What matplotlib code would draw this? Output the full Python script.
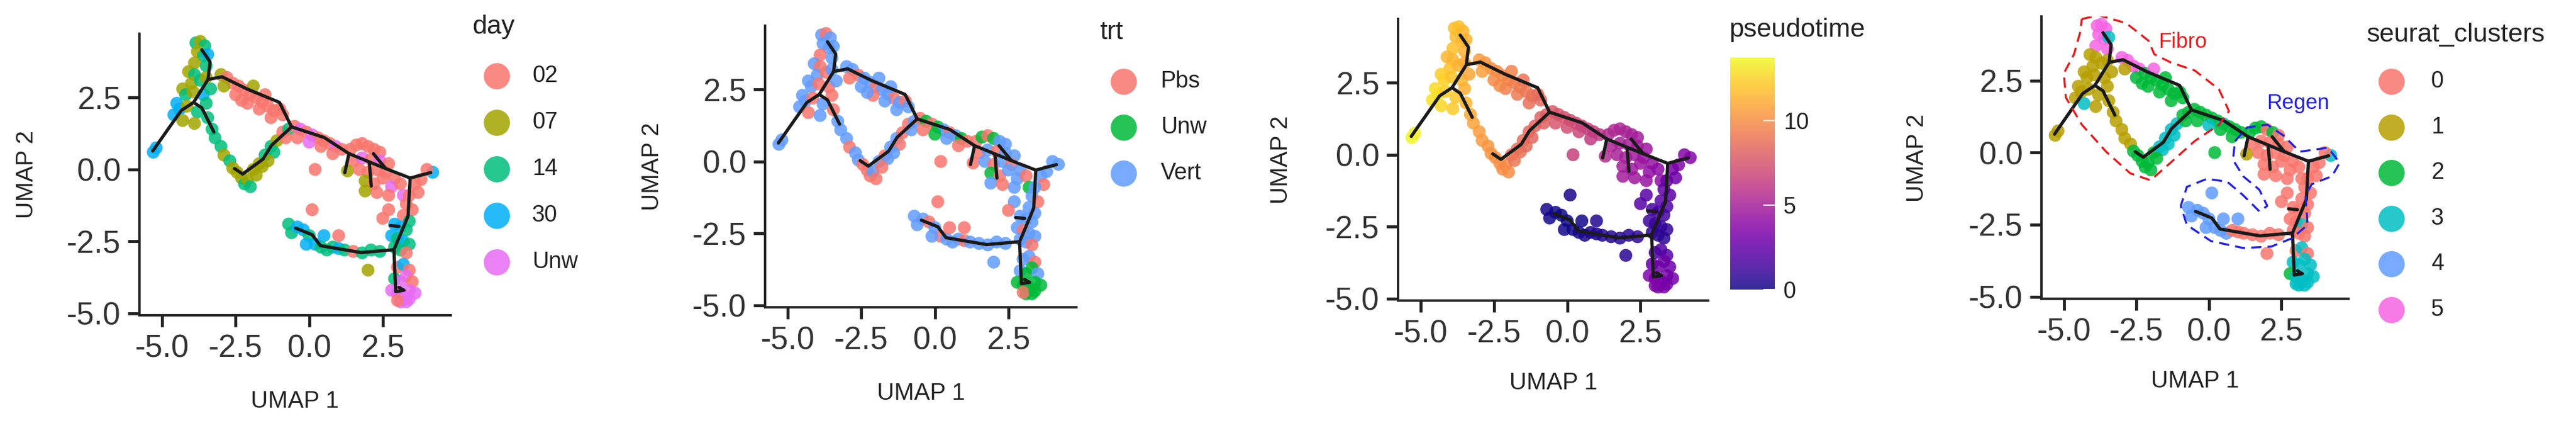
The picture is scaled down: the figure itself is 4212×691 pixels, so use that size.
import matplotlib
matplotlib.use("Agg")
import matplotlib.pyplot as plt
import numpy as np

plt.rcParams["font.family"] = ["Liberation Sans", "DejaVu Sans"]

# ---- cells: UMAP coordinates + metadata (grouped by region, same order in every list)
umap1 = (
    [-3.85, -3.7, -3.55, -3.8, -3.6, -3.45, -3.9, -3.5]
    + [-4.1, -3.9, -4.0, -3.7, -3.5, -4.3, -4.2, -3.95, -3.6, -3.35, -4.5, -4.4, -4.15, -3.8, -3.5, -4.6, -4.3, -3.9, -3.45, -3.3]
    + [-5.3, -5.2]
    + [-3.2, -3.0, -2.9, -2.7, -2.6, -2.45, -2.3, -2.2, -2.1, -2.0]
    + [-3.0, -2.8, -2.6, -2.4, -2.2, -2.0, -1.8, -1.6, -1.4, -1.2, -1.0, -0.9, -2.5, -2.1, -1.7, -1.3, -2.9, -2.3, -1.9, -1.5]
    + [-1.9, -1.7, -1.5, -1.3, -1.1, -0.9, -0.7, -1.6, -1.2, -0.8, -1.4, -1.8]
    + [-0.5, -0.3, -0.1, 0.1, 0.3, 0.5, 0.7, 0.9, 1.1, -0.4, 0.0, 0.4, 0.8, 0.2]
    + [1.4, 1.6, 1.8, 2.0, 2.2, 2.4, 1.5, 1.8, 2.1, 2.4, 2.7, 1.3, 1.7, 2.0, 2.3, 2.6, 2.9, 1.9, 2.2, 2.5, 2.8, 3.1, 1.9, 2.3, 2.7, 3.2]
    + [4.2, 4.0, 3.8, 3.6, 3.7]
    + [3.4, 3.3, 3.5, 3.2, 3.4, 2.9, 3.1, 3.3, 2.8, 3.0, 3.2, 3.4, 2.9, 3.1, 3.3, 2.7, 2.5]
    + [-0.7, -0.6, -0.4, -0.2, 0.0, 0.2, 0.4, 0.6, 0.8, 1.0, 1.2, 1.5, 1.8, 2.1, 2.4, 0.1, 0.5, 1.0, -0.1, 2.0]
    + [3.0, 3.2, 3.4, 2.9, 3.1, 3.3, 3.5, 2.8, 3.0, 3.2, 3.4, 3.6, 3.1, 3.3, 3.0, 3.4]
)
umap2 = (
    [4.4, 4.45, 4.3, 4.1, 3.95, 4.0, 3.7, 3.6]
    + [3.4, 3.3, 3.0, 3.1, 3.2, 2.8, 2.6, 2.7, 2.6, 2.8, 2.3, 2.1, 2.2, 2.0, 2.3, 1.9, 1.7, 1.6, 1.8, 1.4]
    + [0.6, 0.75]
    + [1.1, 0.8, 0.5, 0.3, 0.05, -0.1, -0.3, -0.5, -0.35, -0.6]
    + [3.3, 3.2, 3.0, 2.9, 2.75, 2.6, 2.5, 2.35, 2.2, 2.05, 2.1, 1.9, 2.6, 2.3, 2.1, 1.8, 2.9, 2.4, 2.9, 2.6]
    + [0.0, 0.2, 0.5, 0.8, 1.0, 1.3, 1.4, 0.1, 0.6, 1.1, 0.3, -0.2]
    + [1.5, 1.4, 1.3, 1.2, 1.1, 1.0, 0.9, 0.8, 0.7, 1.1, 0.95, 0.8, 0.55, 0.0]
    + [0.7, 0.85, 0.9, 0.8, 0.7, 0.6, 0.3, 0.4, 0.35, 0.3, 0.2, -0.05, 0.0, -0.1, 0.0, -0.1, -0.3, -0.4, -0.5, -0.3, -0.6, -0.5, -0.75, -0.8, -0.9, -0.9]
    + [-0.1, 0.0, -0.35, -0.5, -0.8]
    + [-0.9, -1.2, -1.4, -1.6, -1.8, -1.9, -2.0, -2.1, -2.3, -2.4, -2.5, -2.6, -2.7, -2.8, -2.9, -1.4, -1.7]
    + [-1.9, -2.2, -2.0, -2.1, -2.3, -2.6, -2.7, -2.8, -2.7, -2.75, -2.8, -2.85, -2.9, -2.8, -2.85, -1.4, -2.3, -2.3, -2.6, -3.5]
    + [-3.4, -3.3, -3.5, -3.8, -3.9, -3.7, -3.9, -4.2, -4.3, -4.4, -4.2, -4.3, -4.6, -4.6, -4.55, -4.5]
)
day = (
    ["14", "07", "14", "07", "14", "30", "07", "14"]
    + ["07", "14", "07", "14", "07", "07", "14", "07", "30", "14", "30", "30", "07", "14", "14", "30", "07", "07", "14", "14"]
    + ["30", "30"]
    + ["14", "14", "07", "14", "07", "07", "07", "14", "07", "14"]
    + ["07", "02", "02", "02", "02", "02", "02", "02", "02", "02", "02", "02", "02", "02", "02", "02", "07", "02", "07", "02"]
    + ["07", "07", "14", "14", "07", "02", "14", "07", "14", "02", "07", "07"]
    + ["02", "Unw", "02", "Unw", "02", "02", "02", "Unw", "02", "02", "Unw", "02", "02", "02"]
    + ["02", "02", "02", "02", "02", "02", "02", "Unw", "02", "Unw", "02", "07", "02", "02", "02", "02", "02", "07", "02", "02", "Unw", "02", "07", "02", "02", "Unw"]
    + ["30", "02", "02", "02", "02"]
    + ["02", "02", "02", "02", "14", "30", "30", "14", "30", "14", "30", "14", "14", "14", "02", "02", "02"]
    + ["14", "14", "30", "30", "14", "30", "14", "14", "14", "30", "14", "02", "14", "14", "14", "02", "30", "02", "30", "07"]
    + ["02", "30", "02", "14", "Unw", "Unw", "02", "Unw", "Unw", "Unw", "Unw", "Unw", "Unw", "Unw", "02", "Unw"]
)
trt = (
    ["Vert", "Pbs", "Vert", "Vert", "Vert", "Vert", "Pbs", "Vert"]
    + ["Vert", "Pbs", "Vert", "Pbs", "Vert", "Vert", "Vert", "Pbs", "Pbs", "Vert", "Vert", "Vert", "Pbs", "Vert", "Pbs", "Vert", "Pbs", "Vert", "Pbs", "Vert"]
    + ["Vert", "Vert"]
    + ["Vert", "Vert", "Pbs", "Vert", "Vert", "Pbs", "Pbs", "Pbs", "Vert", "Pbs"]
    + ["Vert", "Vert", "Pbs", "Vert", "Vert", "Pbs", "Vert", "Vert", "Pbs", "Vert", "Pbs", "Vert", "Vert", "Pbs", "Vert", "Vert", "Pbs", "Vert", "Vert", "Vert"]
    + ["Vert", "Pbs", "Vert", "Vert", "Pbs", "Pbs", "Vert", "Vert", "Pbs", "Vert", "Vert", "Pbs"]
    + ["Pbs", "Unw", "Pbs", "Unw", "Vert", "Pbs", "Vert", "Unw", "Pbs", "Pbs", "Unw", "Vert", "Pbs", "Pbs"]
    + ["Pbs", "Unw", "Pbs", "Unw", "Vert", "Vert", "Pbs", "Vert", "Pbs", "Vert", "Vert", "Pbs", "Vert", "Pbs", "Vert", "Pbs", "Vert", "Unw", "Pbs", "Vert", "Vert", "Pbs", "Vert", "Pbs", "Vert", "Unw"]
    + ["Vert", "Vert", "Vert", "Vert", "Pbs"]
    + ["Vert", "Vert", "Pbs", "Vert", "Vert", "Vert", "Vert", "Vert", "Vert", "Pbs", "Vert", "Vert", "Vert", "Vert", "Pbs", "Vert", "Pbs"]
    + ["Vert", "Vert", "Vert", "Pbs", "Vert", "Pbs", "Vert", "Vert", "Vert", "Pbs", "Vert", "Vert", "Vert", "Vert", "Vert", "Pbs", "Pbs", "Pbs", "Vert", "Vert"]
    + ["Vert", "Vert", "Pbs", "Vert", "Unw", "Unw", "Vert", "Unw", "Unw", "Unw", "Unw", "Unw", "Unw", "Unw", "Pbs", "Unw"]
)
cluster = (
    [5, 5, 5, 5, 5, 3, 5, 5]
    + [1, 1, 1, 1, 1, 1, 1, 1, 1, 1, 1, 1, 1, 1, 1, 1, 3, 1, 1, 1]
    + [1, 1]
    + [1, 1, 1, 1, 2, 2, 2, 2, 2, 2]
    + [5, 5, 5, 5, 2, 2, 2, 2, 2, 2, 2, 2, 2, 2, 2, 2, 1, 2, 5, 2]
    + [2, 3, 3, 3, 3, 2, 2, 3, 3, 2, 3, 2]
    + [2, 2, 2, 2, 2, 3, 2, 2, 2, 2, 3, 2, 2, 2]
    + [2, 2, 2, 0, 2, 0, 0, 0, 0, 0, 0, 1, 0, 0, 0, 0, 0, 0, 0, 0, 0, 0, 0, 0, 0, 0]
    + [3, 0, 0, 0, 0]
    + [0, 0, 0, 0, 0, 0, 0, 0, 0, 0, 3, 0, 0, 0, 0, 0, 0]
    + [4, 4, 4, 4, 4, 4, 4, 4, 0, 0, 0, 0, 0, 0, 0, 4, 4, 4, 4, 0]
    + [0, 3, 0, 3, 3, 3, 3, 2, 3, 3, 3, 3, 3, 3, 3, 3]
)
pseudotime = (
    [11.8, 11.9, 11.6, 11.7, 11.5, 11.4, 11.9, 11.3]
    + [11.6, 11.5, 11.9, 11.4, 11.2, 12.3, 12.5, 12.0, 11.6, 11.0, 12.8, 12.9, 12.4, 12.1, 11.3, 13.0, 12.7, 12.2, 11.5, 11.1]
    + [13.7, 13.5]
    + [10.8, 10.6, 10.5, 10.4, 10.3, 10.2, 10.1, 10.0, 9.9, 10.0]
    + [10.6, 10.4, 10.2, 10.0, 9.8, 9.7, 9.5, 9.3, 9.1, 8.9, 8.7, 8.5, 9.9, 9.5, 9.2, 8.8, 10.7, 9.8, 9.6, 9.0]
    + [9.0, 8.9, 8.7, 8.5, 8.3, 8.2, 8.0, 8.9, 8.4, 8.1, 8.6, 9.1]
    + [7.8, 7.6, 7.4, 7.2, 7.0, 6.8, 6.6, 6.4, 6.2, 7.6, 7.2, 6.8, 6.3, 6.5]
    + [5.5, 5.4, 5.3, 5.2, 5.0, 4.9, 5.2, 5.1, 5.0, 4.8, 4.6, 5.6, 5.1, 4.9, 4.8, 4.6, 4.3, 5.0, 4.7, 4.5, 4.2, 4.0, 4.8, 4.6, 4.3, 4.1]
    + [3.6, 3.7, 3.5, 3.2, 2.9]
    + [2.6, 2.4, 2.2, 2.0, 1.8, 1.6, 1.5, 1.4, 1.2, 1.1, 1.0, 0.9, 0.8, 0.7, 0.6, 2.2, 2.0]
    + [0.2, 0.1, 0.1, 0.0, 0.05, 0.1, 0.15, 0.2, 0.3, 0.35, 0.4, 0.45, 0.5, 0.6, 0.7, 0.3, 0.1, 0.4, 0.1, 0.6]
    + [1.5, 1.8, 2.0, 2.6, 3.0, 2.9, 2.8, 3.4, 3.3, 3.2, 3.1, 3.0, 3.4, 3.3, 3.5, 3.2]
)

# ---- principal graph (trajectory) polylines
traj = [
    ([-5.32, -4.35, -3.93, -3.65, -3.24], [0.64, 2.05, 2.33, 2.14, 1.30]),
    ([-3.93, -3.44, -3.37, -3.65], [2.33, 3.13, 3.74, 4.16]),
    ([-3.44, -2.96, -2.12, -1.01, -0.60, 0.51, 1.35, 2.60, 3.43, 4.13],
     [3.13, 3.22, 2.80, 2.33, 1.48, 1.11, 0.55, 0.03, -0.30, -0.11]),
    ([-0.60, -1.29, -1.57, -2.26, -2.54], [1.48, 0.83, 0.36, -0.16, 0.03]),
    ([1.35, 1.21], [0.55, -0.11]),
    ([2.04, 2.11], [0.26, -0.58]),
    ([2.60, 2.18], [0.03, 0.55]),
    ([3.43, 3.36, 2.88, 2.94, 3.22, 3.05], [-0.30, -1.62, -2.79, -4.25, -4.20, -4.10]),
    ([2.88, 1.76, 0.38, 0.10, -0.46], [-2.79, -2.89, -2.65, -2.27, -2.04]),
    ([2.75, 3.05], [-1.95, -1.98]),
]

# ---- annotation contours for the cluster panel
fibro_x = [-4.38, -3.82, -2.85, -2.08, -1.88, -1.32, -0.49, 0.35, 0.69, 0.35, -0.49, -1.32, -2.01, -2.71, -3.54, -4.38, -4.93, -5.0, -4.65, -4.44]
fibro_y = [4.63, 4.77, 4.49, 3.88, 3.41, 3.13, 2.85, 2.19, 1.44, 0.97, 0.40, -0.35, -0.96, -0.72, 0.03, 0.97, 1.91, 2.75, 3.41, 4.16]
regen_x = [0.90, 1.32, 2.01, 2.57, 3.13, 4.10, 4.51, 4.24, 3.54, 3.33, 3.40, 2.85, 2.15, 1.18, 0.07, -0.76, -0.97, -0.76, -0.07, 0.63, 1.18, 1.74, 2.01, 1.74, 1.18, 0.83]
regen_y = [0.40, 0.87, 0.97, 0.59, 0.03, 0.17, -0.35, -0.82, -1.10, -1.48, -2.51, -2.98, -3.26, -3.31, -3.07, -2.51, -1.85, -1.19, -0.91, -1.01, -1.48, -2.04, -1.85, -1.29, -0.82, -0.25]

day_levels = ["02", "07", "14", "30", "Unw"]
day_colors = ["#F8766D", "#A3A500", "#00BF7D", "#00B0F6", "#E76BF3"]
trt_levels = ["Pbs", "Unw", "Vert"]
trt_colors = ["#F8766D", "#00BA38", "#619CFF"]
cl_levels = [0, 1, 2, 3, 4, 5]
cl_colors = ["#F8766D", "#B79F00", "#00BA38", "#00BFC4", "#619CFF", "#F564E3"]
PT_MAX = 13.75

W, H = 4212, 691
fig = plt.figure(figsize=(W / 100, H / 100), dpi=100)

ov = fig.add_axes([0, 0, 1, 1], zorder=-1)
ov.set_xlim(0, W)
ov.set_ylim(H, 0)
ov.axis("off")

# axes boxes in pixels: left, top, right, bottom; plus x-label y and y-label x
boxes = [(228, 55, 737, 515), (1251, 42, 1760, 502), (2286, 31, 2793, 491), (3338, 27, 3840, 488)]
xlab_y = [656, 643, 626, 623]
ylab_x = [44, 1067, 2095, 3135]
DARK = "#222222"
axes = []
for (l, t, r, b), ly, lx in zip(boxes, xlab_y, ylab_x):
    ax = fig.add_axes([l / W, 1 - b / H, (r - l) / W, (b - t) / H])
    ax.set_xlim(-5.77, 4.81)
    ax.set_ylim(-5.07, 4.72)
    for s in ["top", "right"]:
        ax.spines[s].set_visible(False)
    for s in ["left", "bottom"]:
        ax.spines[s].set_linewidth(2.8)
        ax.spines[s].set_color(DARK)
    ax.set_xticks([-5, -2.5, 0, 2.5])
    ax.set_yticks([-5, -2.5, 0, 2.5])
    ax.set_xticklabels(["-5.0", "-2.5", "0.0", "2.5"])
    ax.set_yticklabels(["-5.0", "-2.5", "0.0", "2.5"])
    ax.tick_params(labelsize=37, length=14, width=3.5, colors=DARK, labelcolor="#333333", pad=8)
    ov.text((l + r) / 2, ly, "UMAP 1", fontsize=28, ha="center", va="center", color=DARK)
    ov.text(lx, (t + b) / 2, "UMAP 2", fontsize=28, ha="center", va="center", rotation=90, color=DARK)
    axes.append(ax)

x = np.array(umap1)
y = np.array(umap2)
kw = dict(s=230, alpha=0.85, linewidths=0, zorder=2)

axes[0].scatter(x, y, c=[day_colors[day_levels.index(d)] for d in day], **kw)
axes[1].scatter(x, y, c=[trt_colors[trt_levels.index(t)] for t in trt], **kw)
sc = axes[2].scatter(x, y, c=pseudotime, cmap="plasma", vmin=0, vmax=PT_MAX, **kw)
axes[3].scatter(x, y, c=[cl_colors[c] for c in cluster], **kw)

for ax in axes:
    for tx, ty in traj:
        ax.plot(tx, ty, color="#1a1a1a", lw=3.8, solid_capstyle="round", zorder=3)

ax4 = axes[3]
ax4.plot(fibro_x + fibro_x[:1], fibro_y + fibro_y[:1], color="#E8191C", ls=(0, (5, 3)), lw=2.4, zorder=4)
ax4.plot(regen_x + regen_x[:1], regen_y + regen_y[:1], color="#2121E0", ls=(0, (5, 3)), lw=2.4, zorder=4)
ax4.text(-0.9, 3.83, "Fibro", color="#E8191C", fontsize=25, ha="center", va="center")
ax4.text(3.06, 1.72, "Regen", color="#2121E0", fontsize=25, ha="center", va="center")


# ---- legends drawn in pixel space
def draw_legend(title, tx, ty, mx, my0, step, lx, labels, colors):
    ov.text(tx, ty, title, fontsize=31, ha="left", va="center", color=DARK)
    for i, (lab, col) in enumerate(zip(labels, colors)):
        yy = my0 + i * step
        ov.scatter([mx], [yy], s=950, c=col, alpha=0.85, linewidths=0)
        ov.text(lx, yy, lab, fontsize=27, ha="left", va="center", color=DARK)


draw_legend("day", 772, 44, 812, 124, 76, 870, day_levels, day_colors)
draw_legend("trt", 1798, 53, 1837, 133, 75, 1898, trt_levels, trt_colors)
draw_legend("seurat_clusters", 3870, 57, 3910, 133, 74.5, 3975, [str(c) for c in cl_levels], cl_colors)

ov.text(2827, 49, "pseudotime", fontsize=31, ha="left", va="center", color=DARK)
cax = fig.add_axes([2829 / W, 1 - 473 / H, 73 / W, 379 / H])
cb = fig.colorbar(sc, cax=cax)
cb.outline.set_visible(False)
cb.set_ticks([0, 5, 10])
cax.tick_params(length=14, width=1.5, color="white", direction="in", labelsize=27, labelcolor=DARK, pad=10)
cax.tick_params(which="both", left=True, right=True)
cax.yaxis.set_ticks_position("right")

fig.savefig("out.png", dpi=100)
